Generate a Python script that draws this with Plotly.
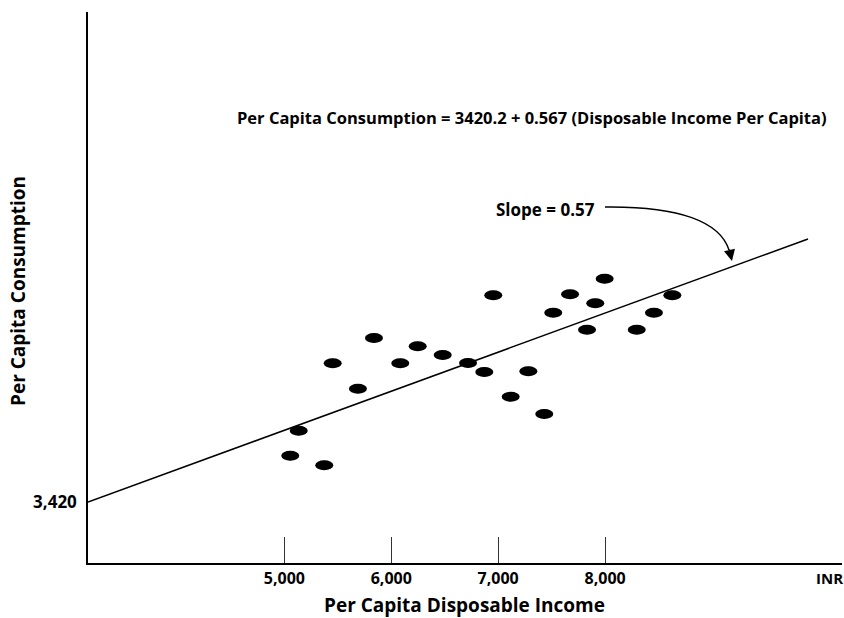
import plotly.graph_objects as go

# Data
income = [5055, 5134, 5373, 5452, 5688, 5838, 6084, 6247, 6481, 6718, 6870, 6954,
          7117, 7282, 7431, 7515, 7672, 7831, 7908, 7996, 8296, 8457, 8629]
consumption = [4092, 4455, 3953, 5434, 5065, 5801, 5434, 5681, 5554, 5438, 5308, 6421,
               4949, 5318, 4698, 6169, 6436, 5922, 6305, 6662, 5922, 6169, 6421]
intercept = 3420.2
slope = 0.567
x_tick_vals = [5000, 6000, 7000, 8000]
x_tick_text = ["5,000", "6,000", "7,000", "8,000"]
y_tick_vals = [3420]
y_tick_text = ["3,420"]

x_axis_start = 3163
x_axis_end = 10216
line_x_end = 9898
y_range = [2534, 10535]

FONT = "Open Sans"
W, H = 844, 618
ML, MR, MT, MB = 88, 2, 12, 55
PW = W - ML - MR
PH = H - MT - MB


def px(xp):
    return (xp - ML) / PW


def py(yp):
    return (H - MB - yp) / PH


line_x = [x_axis_start, line_x_end]
line_y = [intercept + slope * (v - x_axis_start) for v in line_x]

fig = go.Figure()
fig.add_trace(go.Scatter(x=line_x, y=line_y, mode="lines",
                         line=dict(color="black", width=1.5), hoverinfo="skip"))
fig.add_trace(go.Scatter(x=income, y=consumption, mode="markers",
                         marker=dict(color="black", size=9, symbol="circle"),
                         hovertemplate="%{x}, %{y}<extra></extra>"))

shapes = []
for xv, yv in zip(income, consumption):
    shapes.append(dict(type="circle", xref="x", yref="y", xsizemode="pixel", ysizemode="pixel",
                       xanchor=xv, yanchor=yv, x0=-9, x1=9, y0=-5, y1=5,
                       fillcolor="black", line=dict(width=0)))

# curved arrow stem
shapes.append(dict(type="path", xref="paper", yref="paper",
                   path=f"M {px(605)},{py(207)} C {px(680)},{py(206)} {px(720)},{py(222)} {px(729)},{py(250)}",
                   line=dict(color="black", width=1.4)))

annotations = [
    dict(text="<b>Per Capita Consumption = 3420.2 + 0.567 (Disposable Income Per Capita)</b>",
         xref="paper", yref="paper", x=px(532), y=py(117), showarrow=False,
         font=dict(family=FONT, size=16.5, color="black"), xanchor="center", yanchor="middle"),
    dict(text="<b>Slope = 0.57</b>", xref="paper", yref="paper", x=px(545), y=py(209),
         showarrow=False, font=dict(family=FONT, size=17, color="black"),
         xanchor="center", yanchor="middle"),
    dict(text="", xref="paper", yref="paper", x=px(732), y=py(261), ax=-3, ay=-13,
         showarrow=True, arrowhead=2, arrowsize=1.6, arrowwidth=1.4, arrowcolor="black"),
    dict(text="<b>INR</b>", xref="paper", yref="paper", x=px(829), y=py(578),
         showarrow=False, font=dict(family=FONT, size=15, color="black"),
         xanchor="center", yanchor="middle"),
    dict(text="<b>Per Capita Disposable Income</b>", xref="paper", yref="paper",
         x=px(464), y=py(605), showarrow=False,
         font=dict(family=FONT, size=19, color="black"), xanchor="center", yanchor="middle"),
    dict(text="<b>Per Capita Consumption</b>", xref="paper", yref="paper",
         x=px(18), y=py(291), showarrow=False, textangle=-90,
         font=dict(family=FONT, size=19, color="black"), xanchor="center", yanchor="middle"),
]

fig.update_layout(
    width=W, height=H,
    margin=dict(l=ML, r=MR, t=MT, b=MB, pad=0),
    plot_bgcolor="white", paper_bgcolor="white",
    showlegend=False,
    shapes=shapes, annotations=annotations,
    xaxis=dict(range=[x_axis_start, x_axis_end], tickvals=x_tick_vals, ticktext=x_tick_text,
               ticks="inside", ticklen=26, tickwidth=1, tickcolor="#333",
               showline=True, linecolor="black", linewidth=1.5, showgrid=False, zeroline=False,
               tickfont=dict(family=FONT, size=16, color="black", weight="bold")),
    yaxis=dict(range=y_range, tickvals=y_tick_vals, ticktext=y_tick_text, ticks="",
               showline=True, linecolor="black", linewidth=1.5, showgrid=False, zeroline=False,
               ticklabelstandoff=6,
               tickfont=dict(family=FONT, size=17, color="black", weight="bold")),
)

fig.write_html("out.html", config={"displayModeBar": False},
               post_script="document.body.style.margin='0';")
